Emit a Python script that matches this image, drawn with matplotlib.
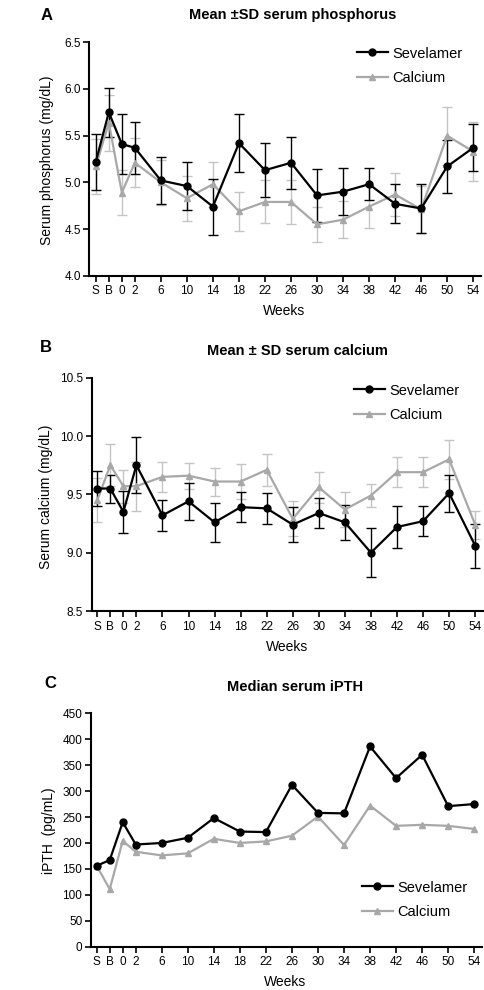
import numpy as np
import matplotlib
matplotlib.use("Agg")
import matplotlib.pyplot as plt

plt.rcParams['font.family'] = ['Liberation Sans', 'DejaVu Sans']

# x categories: screening, baseline, then weeks
week_labels = ['S', 'B', '0', '2', '6', '10', '14', '18', '22', '26', '30', '34', '38', '42', '46', '50', '54']
week_pos = [-4, -2, 0, 2, 6, 10, 14, 18, 22, 26, 30, 34, 38, 42, 46, 50, 54]

# A: serum phosphorus (mg/dL), mean and SD
phos_sev = [5.22, 5.75, 5.41, 5.37, 5.02, 4.96, 4.74, 5.42, 5.13, 5.21, 4.86, 4.90, 4.98, 4.77, 4.72, 5.17, 5.37]
phos_sev_sd = [0.30, 0.26, 0.32, 0.28, 0.25, 0.26, 0.30, 0.31, 0.29, 0.28, 0.28, 0.25, 0.17, 0.21, 0.26, 0.28, 0.25]
phos_cal = [5.17, 5.64, 4.89, 5.21, 5.00, 4.83, 4.98, 4.69, 4.79, 4.79, 4.55, 4.60, 4.74, 4.87, 4.71, 5.50, 5.33]
phos_cal_sd = [0.29, 0.30, 0.24, 0.26, 0.24, 0.24, 0.24, 0.21, 0.23, 0.24, 0.19, 0.20, 0.23, 0.23, 0.25, 0.31, 0.32]

# B: serum calcium (mg/dL), mean and SD
ca_sev = [9.55, 9.55, 9.35, 9.75, 9.32, 9.44, 9.26, 9.39, 9.38, 9.24, 9.34, 9.26, 9.00, 9.22, 9.27, 9.51, 9.06]
ca_sev_sd = [0.15, 0.12, 0.18, 0.24, 0.13, 0.16, 0.17, 0.13, 0.13, 0.15, 0.13, 0.15, 0.21, 0.18, 0.13, 0.16, 0.19]
ca_cal = [9.45, 9.75, 9.57, 9.57, 9.65, 9.66, 9.61, 9.61, 9.71, 9.29, 9.56, 9.37, 9.49, 9.69, 9.69, 9.80, 9.24]
ca_cal_sd = [0.19, 0.18, 0.14, 0.21, 0.13, 0.11, 0.12, 0.15, 0.14, 0.15, 0.13, 0.15, 0.10, 0.13, 0.13, 0.17, 0.12]

# C: median iPTH (pg/mL)
pth_sev = [156, 167, 240, 197, 200, 210, 248, 222, 221, 312, 258, 257, 386, 325, 370, 271, 275]
pth_cal = [156, 111, 204, 183, 176, 180, 208, 200, 203, 214, 251, 196, 272, 233, 235, 233, 227]

W, H = 484, 990
fig = plt.figure(figsize=(W / 100, H / 100), dpi=100)

black = '#000000'
gray = '#a8a8a8'
gray_err = '#c4c4c4'


def px_axes(left, top, right, bottom):
    return fig.add_axes([left / W, 1 - bottom / H, (right - left) / W, (bottom - top) / H])


def style(ax, ylim, yticks, yfmt, xlim):
    ax.set_xlim(*xlim)
    ax.set_ylim(*ylim)
    ax.set_yticks(yticks)
    ax.set_yticklabels([yfmt % v for v in yticks])
    ax.set_xticks(week_pos)
    ax.set_xticklabels(week_labels)
    for s in ['top', 'right']:
        ax.spines[s].set_visible(False)
    for s in ['left', 'bottom']:
        ax.spines[s].set_linewidth(1.5)
    ax.tick_params(axis='both', direction='out', length=4.5, width=1.2, labelsize=8.5)
    ax.tick_params(axis='y', pad=1.5)
    ax.tick_params(axis='x', pad=2.5)


def add_legend(ax, x, y):
    h, l = ax.get_legend_handles_labels()
    ax.legend(h[::-1], l[::-1], loc='center left', bbox_to_anchor=(x / W, 1 - y / H),
              bbox_transform=fig.transFigure, frameon=False, fontsize=10.5,
              handlelength=2.1, handletextpad=0.3, labelspacing=0.75, borderpad=0, borderaxespad=0)


# ---- Panel A ----
ax1 = px_axes(89.3, 42.3, 481, 275.7)
ax1.errorbar(week_pos, phos_cal, yerr=phos_cal_sd, fmt='none', ecolor=gray_err, elinewidth=1, capsize=3.5, capthick=1)
ax1.errorbar(week_pos, phos_sev, yerr=phos_sev_sd, fmt='none', ecolor=black, elinewidth=1, capsize=3.5, capthick=1)
ax1.plot(week_pos, phos_cal, '-^', color=gray, lw=1.6, ms=5, label='Calcium')
ax1.plot(week_pos, phos_sev, '-o', color=black, lw=1.6, ms=5, label='Sevelamer')
style(ax1, (4.0, 6.5), [4.0, 4.5, 5.0, 5.5, 6.0, 6.5], '%.1f', (-5.0, 55.2))
add_legend(ax1, 357, 66)
fig.text(293 / W, 1 - 15 / H, 'Mean \u00b1SD serum phosphorus', ha='center', va='center', fontsize=10.5, fontweight='bold')
fig.text(41 / W, 1 - 15 / H, 'A', ha='left', va='center', fontsize=12, fontweight='bold')
fig.text(46.7 / W, 1 - 160 / H, 'Serum phosphorus (mg/dL)', rotation=90, ha='center', va='center', fontsize=10)
fig.text(284 / W, 1 - 311 / H, 'Weeks', ha='center', va='center', fontsize=10)

# ---- Panel B ----
ax2 = px_axes(91.7, 377.7, 483, 611)
ax2.errorbar(week_pos, ca_cal, yerr=ca_cal_sd, fmt='none', ecolor=gray_err, elinewidth=1, capsize=3.5, capthick=1)
ax2.errorbar(week_pos, ca_sev, yerr=ca_sev_sd, fmt='none', ecolor=black, elinewidth=1, capsize=3.5, capthick=1)
ax2.plot(week_pos, ca_cal, '-^', color=gray, lw=1.6, ms=5, label='Calcium')
ax2.plot(week_pos, ca_sev, '-o', color=black, lw=1.6, ms=5, label='Sevelamer')
style(ax2, (8.5, 10.5), [8.5, 9.0, 9.5, 10.0, 10.5], '%.1f', (-4.86, 55.2))
add_legend(ax2, 354, 403)
fig.text(297 / W, 1 - 351 / H, 'Mean \u00b1 SD serum calcium', ha='center', va='center', fontsize=10.5, fontweight='bold')
fig.text(40 / W, 1 - 348 / H, 'B', ha='left', va='center', fontsize=12, fontweight='bold')
fig.text(46 / W, 1 - 497 / H, 'Serum calcium (mg/dL)', rotation=90, ha='center', va='center', fontsize=10)
fig.text(287 / W, 1 - 647 / H, 'Weeks', ha='center', va='center', fontsize=10)

# ---- Panel C ----
ax3 = px_axes(90.7, 713.3, 482, 946.7)
ax3.plot(week_pos, pth_cal, '-^', color=gray, lw=1.6, ms=5, label='Calcium')
ax3.plot(week_pos, pth_sev, '-o', color=black, lw=1.6, ms=5, label='Sevelamer')
style(ax3, (0, 450), list(range(0, 451, 50)), '%d', (-4.92, 55.2))
add_legend(ax3, 362, 900)
fig.text(295 / W, 1 - 687 / H, 'Median serum iPTH', ha='center', va='center', fontsize=10.5, fontweight='bold')
fig.text(44 / W, 1 - 683 / H, 'C', ha='left', va='center', fontsize=12, fontweight='bold')
fig.text(49 / W, 1 - 831 / H, 'iPTH  (pg/mL)', rotation=90, ha='center', va='center', fontsize=10)
fig.text(285 / W, 1 - 982 / H, 'Weeks', ha='center', va='center', fontsize=10)

fig.savefig('out.png', dpi=100)
